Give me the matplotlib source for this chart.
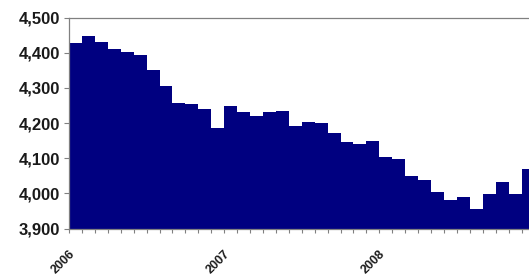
import numpy as np
import matplotlib
matplotlib.use("Agg")
import matplotlib.pyplot as plt
from matplotlib.ticker import FuncFormatter

# monthly values, Jan 2006 onwards
values = [4428, 4448, 4429, 4410, 4401, 4393, 4350, 4305, 4256, 4253, 4239, 4187,
          4248, 4232, 4220, 4230, 4235, 4192, 4204, 4201, 4171, 4147, 4140, 4150,
          4104, 4097, 4048, 4039, 4003, 3981, 3990, 3955, 3997, 4033, 3999, 4068]
year_labels = ["2006", "2007", "2008"]
year_pos = [0, 12, 24]
y_ticks = [3900, 4000, 4100, 4200, 4300, 4400, 4500]

plt.rcParams['font.family'] = ['Liberation Sans', 'DejaVu Sans']

fig = plt.figure(figsize=(5.29, 2.74), dpi=100)
ax = fig.add_axes([69 / 529, 45.5 / 274, 465.5 / 529, 211 / 274])

x = np.arange(len(values))
ax.bar(x, np.array(values) - 3900, bottom=3900, width=1.0, align='edge',
       color='#000080', edgecolor='none')

ax.set_xlim(0, 36)
ax.set_ylim(3900, 4500)
ax.set_yticks(y_ticks)
ax.yaxis.set_major_formatter(FuncFormatter(lambda v, p: f"{int(v):,}"))
for lab in ax.get_yticklabels():
    lab.set_fontweight('bold')
    lab.set_fontsize(12)
    lab.set_color('#1a1a1a')

# a tick at every month, a label only at each January
month_labels = [""] * 36
for pos, lab in zip(year_pos, year_labels):
    month_labels[pos] = lab
ax.set_xticks(np.arange(0, 36))
ax.set_xticklabels(month_labels, rotation=45, ha='right', va='top',
                   rotation_mode='anchor', fontsize=9, fontweight='bold',
                   color='#1a1a1a')
ax.tick_params(axis='x', length=3, width=0.8, color='#808080', pad=11)
ax.tick_params(axis='y', length=3.6, width=0.8, color='#808080', pad=3)

for side in ['left', 'top', 'bottom', 'right']:
    ax.spines[side].set_color('#808080')
    ax.spines[side].set_linewidth(0.9)

fig.savefig("out.png", dpi=100)
